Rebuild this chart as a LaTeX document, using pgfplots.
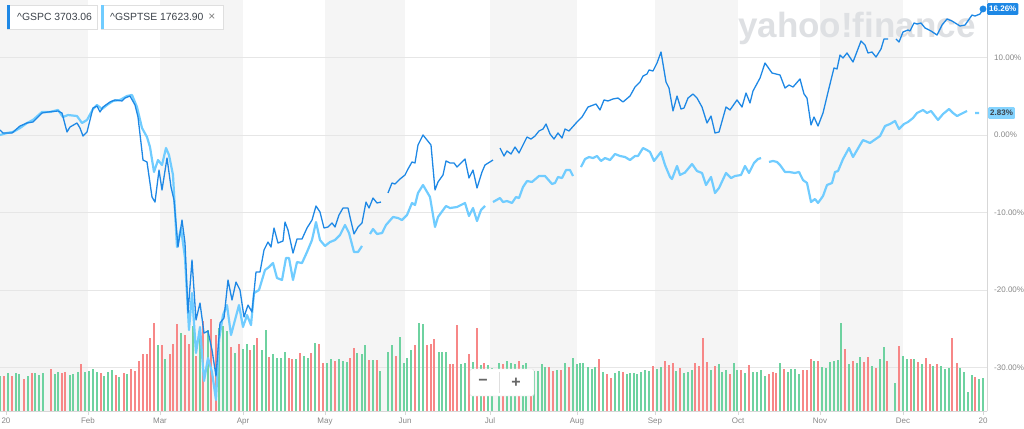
\documentclass[border=0pt]{standalone}
\usepackage{pgfplots}
\pgfplotsset{compat=1.18}
\usepackage{fontspec}
\setmainfont{Liberation Sans}
\definecolor{gspc}{RGB}{30,136,229}
\definecolor{tsx}{RGB}{112,204,255}
\definecolor{band}{RGB}{245,245,245}
\definecolor{gridc}{RGB}{230,230,230}
\definecolor{volg}{RGB}{110,210,160}
\definecolor{volr}{RGB}{247,135,135}
\definecolor{wm}{RGB}{222,224,227}
\definecolor{tickc}{RGB}{135,135,135}
\definecolor{axisc}{RGB}{215,215,215}
\definecolor{legtext}{RGB}{60,66,74}
\pgfplotsset{base/.style={scale only axis, width=987pt, height=411pt, at={(0pt,17pt)}, anchor=south west, xmin=0, xmax=987}}
\begin{document}
\begin{tikzpicture}
\useasboundingbox (0,0) rectangle (1024pt,428pt);
% background: bands, grid, watermark
\begin{axis}[base, ymin=-35.61, ymax=17.42, hide axis]
\fill[band] (axis cs:0,-35.61) rectangle (axis cs:88,17.42);
\fill[band] (axis cs:160,-35.61) rectangle (axis cs:243,17.42);
\fill[band] (axis cs:325,-35.61) rectangle (axis cs:405,17.42);
\fill[band] (axis cs:490,-35.61) rectangle (axis cs:577,17.42);
\fill[band] (axis cs:655,-35.61) rectangle (axis cs:738,17.42);
\fill[band] (axis cs:820,-35.61) rectangle (axis cs:903,17.42);
\draw[gridc, line width=0.8pt] (axis cs:0,10) -- (axis cs:987,10);
\draw[gridc, line width=0.8pt] (axis cs:0,0) -- (axis cs:987,0);
\draw[gridc, line width=0.8pt] (axis cs:0,-10) -- (axis cs:987,-10);
\draw[gridc, line width=0.8pt] (axis cs:0,-20) -- (axis cs:987,-20);
\draw[gridc, line width=0.8pt] (axis cs:0,-30) -- (axis cs:987,-30);
\node[anchor=base west, inner sep=0pt, text=wm, font=\fontsize{35}{40}\bfseries\selectfont] at (axis cs:738,12.52) {yahoo!finance};
\end{axis}
% volume
\begin{axis}[base, ymin=0, ymax=1233, hide axis]
\addplot[ycomb, volg, line width=1.5pt] coordinates {(0,105)(8,115)(16,113)(19,110)(28,105)(35,113)(39,108)(43,113)(55,112)(58,116)(70,108)(73,110)(78,117)(85,117)(89,120)(93,127)(97,117)(104,105)(108,117)(112,122)(119,102)(127,110)(158,197)(165,155)(181,235)(193,255)(200,240)(208,242)(219,250)(223,255)(227,240)(235,175)(243,185)(247,200)(254,197)(262,182)(266,244)(273,170)(277,160)(281,160)(285,178)(296,155)(304,165)(308,160)(315,205)(327,145)(331,157)(339,157)(343,150)(347,147)(357,175)(362,170)(365,198)(373,152)(380,120)(388,178)(392,198)(400,222)(404,145)(407,160)(411,183)(419,265)(423,260)(439,178)(442,177)(446,178)(461,142)(465,145)(473,147)(481,138)(488,138)(492,130)(499,145)(507,150)(511,145)(515,140)(523,137)(526,145)(534,120)(538,120)(542,140)(545,132)(557,122)(565,145)(573,158)(577,142)(580,143)(583,145)(588,132)(592,127)(595,132)(603,117)(615,115)(619,120)(627,110)(630,114)(634,114)(637,112)(641,117)(645,122)(649,119)(657,126)(661,132)(676,120)(684,114)(688,118)(692,123)(711,122)(719,142)(722,117)(726,122)(734,144)(737,123)(745,113)(753,117)(757,117)(761,122)(765,105)(780,145)(788,118)(791,125)(795,125)(799,110)(814,150)(822,132)(826,130)(830,147)(834,150)(838,152)(841,264)(849,142)(857,144)(860,162)(872,135)(880,155)(884,192)(895,85)(903,165)(907,155)(914,155)(922,140)(933,135)(941,134)(945,125)(949,128)(960,128)(964,117)(968,57)(972,108)(979,95)(983,98)};
\addplot[ycomb, volr, line width=1.5pt] coordinates {(4,105)(12,105)(24,97)(32,113)(51,125)(62,113)(65,117)(81,140)(101,113)(116,108)(124,115)(131,125)(135,120)(139,150)(143,172)(147,170)(150,218)(154,265)(162,197)(170,172)(173,202)(177,260)(185,228)(189,200)(196,165)(203,270)(211,275)(216,228)(231,192)(239,202)(250,183)(257,218)(269,162)(289,160)(292,155)(300,175)(311,173)(319,202)(323,145)(335,150)(350,158)(354,188)(369,152)(377,152)(396,165)(415,198)(427,197)(431,202)(434,215)(450,140)(453,140)(457,257)(469,170)(477,248)(484,145)(503,140)(519,150)(531,120)(549,132)(553,120)(561,123)(569,132)(599,155)(607,110)(611,98)(623,118)(653,135)(665,150)(669,137)(673,143)(680,130)(695,145)(699,135)(703,218)(707,146)(715,134)(730,112)(741,122)(749,137)(769,112)(773,118)(776,113)(784,125)(803,122)(807,122)(811,157)(818,150)(845,185)(853,150)(864,147)(868,163)(876,128)(887,150)(899,195)(911,157)(918,147)(926,160)(930,142)(937,142)(952,218)(957,145)(975,103)};
\end{axis}
% main
\begin{axis}[base, ymin=-35.61, ymax=17.42,
  axis x line*=bottom, axis y line*=right,
  x axis line style={-, draw=axisc, line width=0.8pt},
  y axis line style={-, draw=axisc, line width=0.8pt},
  xtick={6,88,160,243,325,405,490,577,655,738,820,903,983},
  xticklabels={20,Feb,Mar,Apr,May,Jun,Jul,Aug,Sep,Oct,Nov,Dec,20},
  ytick={-30,-20,-10,0,10},
  yticklabels={-30.00\%,-20.00\%,-10.00\%,0.00\%,10.00\%},
  tick label style={font=\fontsize{8}{9}\selectfont, text=tickc},
  xtick style={draw=axisc, line width=0.8pt},
  ytick style={draw=none},
  major tick length=4pt, tick align=outside,
  yticklabel style={anchor=west, inner sep=0pt, xshift=3pt},
  xticklabel style={anchor=north, inner sep=0pt, yshift=-3pt},
  unbounded coords=jump, clip=false]
\addplot[tsx, line width=2.2pt, line join=round] coordinates {(0,0.00)(7,0.26)(13,0.39)(20,0.90)(27,1.55)(33,1.94)(42,2.97)(50,2.97)(58,3.23)(63,2.32)(68,2.58)(77,2.45)(82,1.55)(87,1.94)(93,3.35)(97,3.87)(102,3.35)(107,3.87)(113,4.39)(120,4.52)(127,5.03)(132,5.16)(137,3.61)(142,0.90)(147,-0.26)(150,-1.55)(154,-4.77)(158,-3.23)(162,-3.87)(166,-1.68)(169,-2.58)(173,-5.16)(177,-14.45)(181,-12.00)(185,-15.87)(189,-25.16)(192,-20.39)(196,-28.13)(200,-24.77)(204,-31.74)(208,-28.77)(212,-30.58)(216,-34.19)(219,-26.45)(223,-23.23)(227,-21.94)(231,-25.81)(235,-23.87)(239,-21.94)(243,-24.77)(247,-23.23)(251,-24.52)(254,-20.39)(259,-20.00)(265,-17.42)(269,-17.03)(273,-16.52)(277,-18.45)(282,-18.71)(286,-15.87)(289,-15.87)(293,-18.71)(297,-16.39)(302,-16.52)(307,-15.10)(312,-13.55)(316,-11.23)(320,-13.55)(325,-14.32)(330,-13.81)(335,-13.55)(340,-12.90)(345,-11.61)(349,-12.65)(354,-15.10)(358,-15.10)(362,-14.32)(366,nan)(370,-12.77)(373,-12.13)(377,-12.77)(382,-12.65)(386,-11.61)(393,-10.58)(398,-10.71)(402,-10.97)(407,-10.32)(412,-8.77)(415,-9.03)(418,-7.48)(423,-6.45)(430,-8.00)(435,-11.87)(438,-10.58)(446,-9.16)(450,-9.42)(457,-9.29)(465,-8.77)(469,-10.45)(473,-9.42)(477,-11.10)(481,-9.68)(485,-9.16)(489,nan)(493,-8.65)(500,-8.13)(503,-8.65)(507,-8.52)(512,-8.77)(516,-8.00)(519,-8.13)(523,-6.71)(527,-5.94)(532,-6.06)(539,-5.29)(545,-5.29)(552,-6.32)(555,-6.19)(558,-5.42)(562,-5.55)(566,-4.52)(570,-4.52)(573,-5.29)(577,nan)(581,-4.13)(585,-3.10)(589,-2.84)(593,-2.97)(597,-2.71)(601,-3.35)(605,-2.97)(610,-3.23)(615,-2.45)(620,-2.71)(625,-2.84)(630,-3.23)(635,-2.71)(638,-2.71)(643,-1.68)(647,-1.94)(650,-2.19)(654,-3.35)(661,-2.19)(665,-3.87)(670,-5.42)(672,-5.68)(677,-4.00)(680,-5.16)(685,-4.84)(692,-3.74)(697,-4.65)(702,-4.90)(706,-6.45)(711,-5.42)(715,-7.48)(719,-6.84)(726,-4.90)(731,-5.55)(735,-5.29)(741,-5.16)(745,-4.00)(749,-4.90)(754,-3.61)(758,-3.10)(761,-2.97)(765,nan)(769,-3.48)(773,-3.35)(777,-3.48)(780,-3.87)(785,-4.77)(789,-4.77)(795,-4.90)(799,-4.77)(803,-5.81)(807,-6.19)(811,-8.65)(815,-8.26)(818,-8.77)(823,-7.87)(827,-6.45)(832,-6.19)(835,-4.77)(838,-4.65)(843,-3.10)(849,-1.68)(853,-2.84)(860,-1.29)(863,-0.65)(870,-1.03)(880,-0.13)(885,1.16)(890,1.42)(895,1.81)(899,0.77)(904,1.42)(908,1.68)(913,2.19)(917,2.84)(923,3.23)(927,2.84)(931,3.10)(938,1.94)(943,2.71)(949,3.35)(953,2.84)(957,2.45)(963,2.84)(967,3.10)(971,nan)(975,2.84)(979,2.84)};
\addplot[gspc, line width=1.3pt, line join=round] coordinates {(0,0.65)(3,0.26)(12,0.26)(20,1.16)(27,1.55)(33,1.68)(42,2.84)(48,2.97)(58,3.10)(62,2.84)(67,0.39)(70,1.03)(77,1.55)(80,0.90)(83,-0.13)(87,0.39)(93,3.48)(97,3.74)(100,2.97)(103,3.61)(110,4.26)(115,4.52)(122,4.39)(125,4.77)(130,5.03)(135,3.87)(138,2.32)(143,-3.23)(147,-3.48)(152,-8.00)(155,-8.65)(159,-4.52)(162,-7.10)(167,-2.97)(171,-6.71)(174,-8.39)(178,-14.45)(182,-10.97)(185,-13.94)(188,-22.97)(192,-16.13)(196,-23.87)(200,-21.68)(204,-25.55)(208,-25.29)(212,-27.74)(216,-31.10)(220,-24.26)(224,-23.61)(228,-18.71)(232,-21.29)(236,-18.97)(240,-20.00)(244,-23.48)(248,-21.94)(252,-22.84)(256,-17.68)(260,-17.68)(264,-14.84)(268,-13.81)(271,-14.45)(274,-12.00)(278,-13.94)(283,-13.68)(285,-11.23)(288,-12.26)(293,-15.23)(297,-13.42)(302,-13.42)(307,-12.00)(312,-10.97)(316,-9.16)(320,-9.94)(324,-12.00)(328,-11.87)(332,-11.35)(335,-11.87)(339,-10.32)(343,-9.42)(348,-9.42)(350,-10.58)(354,-12.77)(358,-11.87)(362,-11.35)(366,-8.65)(369,-9.42)(373,-8.13)(377,-8.77)(381,-8.65)(384,nan)(388,-7.48)(392,-6.19)(395,-6.32)(400,-5.68)(405,-5.16)(408,-4.39)(412,-3.48)(415,-3.61)(418,-1.29)(423,0.00)(431,-1.29)(435,-7.10)(438,-6.06)(443,-5.16)(446,-3.35)(450,-3.61)(454,-3.61)(457,-4.13)(465,-3.10)(469,-5.55)(473,-4.52)(477,-6.84)(482,-4.77)(485,-3.87)(493,-3.23)(496,nan)(500,-1.68)(504,-2.71)(507,-2.06)(511,-2.45)(515,-1.55)(519,-2.32)(523,-1.29)(527,-0.26)(531,-0.52)(535,-0.13)(539,0.52)(543,0.77)(546,1.42)(550,0.13)(554,-0.52)(558,0.26)(562,-0.39)(565,0.77)(569,0.52)(577,1.68)(582,2.32)(588,3.61)(596,4.00)(600,3.23)(604,4.52)(608,4.39)(613,4.65)(618,4.77)(623,4.26)(630,5.03)(635,6.19)(640,6.84)(643,7.61)(647,7.87)(649,8.39)(653,8.26)(657,9.29)(661,10.71)(666,6.84)(669,6.06)(673,3.10)(677,5.03)(681,3.35)(684,3.48)(688,4.77)(693,5.29)(697,4.77)(702,3.61)(707,1.55)(711,2.45)(715,0.26)(719,0.39)(726,3.61)(730,3.23)(737,4.52)(742,3.61)(746,5.42)(750,4.13)(753,5.68)(760,7.35)(765,9.29)(772,8.00)(780,7.74)(785,6.06)(789,6.45)(793,6.19)(800,7.23)(804,5.29)(807,4.77)(811,1.29)(814,2.32)(818,1.16)(823,2.84)(829,6.06)(834,8.65)(837,8.52)(840,10.32)(843,9.94)(847,10.58)(853,9.42)(861,12.13)(865,11.61)(868,10.58)(872,10.71)(876,10.06)(881,11.10)(884,12.39)(888,12.39)(892,nan)(896,12.39)(899,12.00)(903,13.29)(908,13.55)(910,13.42)(914,14.45)(917,14.32)(921,14.45)(925,13.81)(931,13.42)(937,12.90)(942,14.19)(947,14.97)(952,14.71)(960,14.06)(965,14.19)(972,15.48)(975,15.35)(980,15.61)(983,16.26)};
\addplot[only marks, mark=*, mark size=3.2pt, gspc] coordinates {(983,16.26)};
\node[anchor=west, fill=gspc, text=white, font=\fontsize{8}{9}\bfseries\selectfont, inner xsep=2pt, inner ysep=3pt, rounded corners=1pt] at (axis cs:987,16.26) {16.26\%};
\node[anchor=west, fill=tsx!85, text=legtext, font=\fontsize{8}{9}\bfseries\selectfont, inner xsep=2pt, inner ysep=3pt, rounded corners=1pt] at (axis cs:988,2.83) {2.83\%};
\end{axis}
% legend chips
\draw[draw=gray!25, fill=white] (7pt,399pt) rectangle (97pt,423pt);
\fill[gspc] (7pt,399pt) rectangle (10pt,423pt);
\node[anchor=west, inner sep=0pt, font=\fontsize{10.4}{12}\selectfont, text=legtext] at (17pt,411pt) {\textasciicircum GSPC\ 3703.06};
\draw[draw=gray!25, fill=white] (101pt,399pt) rectangle (223pt,423pt);
\fill[tsx] (101pt,399pt) rectangle (104pt,423pt);
\node[anchor=west, inner sep=0pt, font=\fontsize{10.4}{12}\selectfont, text=legtext] at (110pt,411pt) {\textasciicircum GSPTSE\ 17623.90};
\node[inner sep=0pt, font=\fontsize{12}{12}\selectfont, text=gray] at (212pt,411pt) {×};
% zoom control
\draw[draw=gray!25, fill=white, rounded corners=2pt] (470pt,32pt) rectangle (534pt,59pt);
\draw[gray!25] (499pt,35pt) -- (499pt,56pt);
\node[inner sep=0pt, font=\fontsize{16}{16}\bfseries\selectfont, text=gray!80!black] at (483pt,45.5pt) {−};
\node[inner sep=0pt, font=\fontsize{16}{16}\bfseries\selectfont, text=gray!80!black] at (516pt,45.5pt) {+};
\end{tikzpicture}
\end{document}
